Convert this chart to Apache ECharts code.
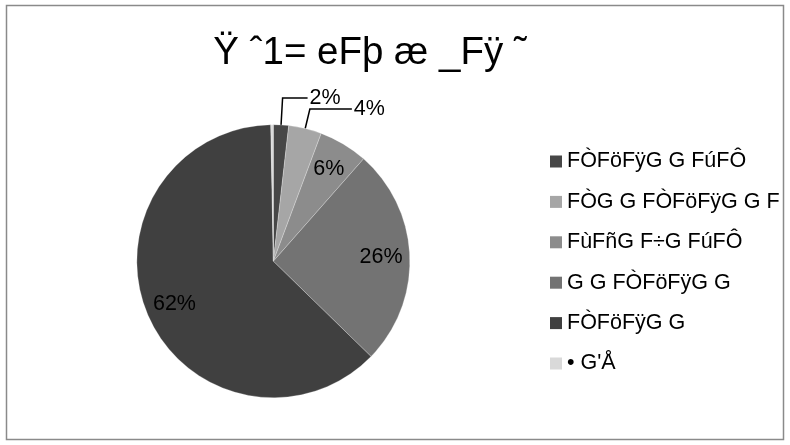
<!DOCTYPE html>
<html>
<head>
<meta charset="utf-8">
<script src="https://cdn.jsdelivr.net/npm/echarts@6/dist/echarts.min.js"></script>
<style>html,body{margin:0;padding:0;background:#fff}#c{width:790px;height:445px}</style>
</head>
<body>
<div id="c"></div>
<script>
const titleText = 'Ÿ ˆ1= eFþ æ _Fÿ ˜';
const categories = ['FÒFöFÿG G FúFÔ', 'FÒG G FÒFöFÿG G F', 'FùFñG F÷G FúFÔ', 'G G FÒFöFÿG G', 'FÒFöFÿG G', '• G\'Å'];
const values = [1.8, 3.9, 5.8, 25.8, 62.4, 0.3];
const colors = ['#474747', '#a6a6a6', '#8c8c8c', '#737373', '#404040', '#d9d9d9'];
const outsideLabel = [true, true, false, false, false, false];
const insideLabel = [false, false, true, true, true, false];
const lineLen = [27, 20, 0, 0, 0, 0];
const lineLen2 = [25, 42, 0, 0, 0, 0];

const chart = echarts.init(document.getElementById('c'), null, {renderer: 'canvas'});
const fmt = p => Math.round(p.percent) + '%';
const font = 'Liberation Sans, Arial, sans-serif';
const center = ['34.6%', '58.7%'];

const mainData = categories.map((n, i) => ({
  name: n, value: values[i],
  itemStyle: {color: colors[i]},
  label: {show: outsideLabel[i]},
  labelLine: {show: outsideLabel[i], length: lineLen[i], length2: lineLen2[i]}
}));
const overlayData = categories.map((n, i) => ({
  name: n, value: values[i],
  label: {show: insideLabel[i]}
}));

chart.setOption({
  animation: false,
  backgroundColor: '#fff',
  color: colors,
  graphic: [{
    type: 'rect', shape: {x: 6.5, y: 5.5, width: 777, height: 434},
    style: {fill: 'none', stroke: '#8a8a8a', lineWidth: 1.5}, silent: true, z: 100
  }],
  title: {
    text: titleText, left: 365, top: 29, textAlign: 'center',
    textStyle: {fontFamily: font, fontSize: 38.5, fontWeight: 'normal', color: '#000'}
  },
  legend: {
    orient: 'vertical', left: 545, top: 145.5,
    icon: 'rect', itemWidth: 12, itemHeight: 12, itemGap: 18.4, itemStyle: {borderWidth: 0},
    data: categories,
    textStyle: {fontFamily: font, fontSize: 21.5, color: '#000', lineHeight: 21},
    selectedMode: false
  },
  series: [{
    type: 'pie', center: center, radius: 136.5,
    startAngle: 90, clockwise: true,
    avoidLabelOverlap: false,
    data: mainData,
    itemStyle: {borderColor: 'rgba(255,255,255,0.5)', borderWidth: 0.5},
    label: {position: 'outside', formatter: fmt, fontFamily: font, fontSize: 21.5, color: '#000', distanceToLabelLine: 2},
    labelLine: {lineStyle: {color: '#000', width: 1.5}},
    labelLayout: {hideOverlap: false},
    emphasis: {disabled: true}
  }, {
    type: 'pie', center: center, radius: [73, 136.5],
    startAngle: 90, clockwise: true, silent: true,
    data: overlayData,
    itemStyle: {color: 'rgba(0,0,0,0)', borderWidth: 0},
    label: {position: 'inside', formatter: fmt, fontFamily: font, fontSize: 21.5, color: '#000'},
    labelLine: {show: false},
    emphasis: {disabled: true},
    tooltip: {show: false}
  }]
});
</script>
</body>
</html>
